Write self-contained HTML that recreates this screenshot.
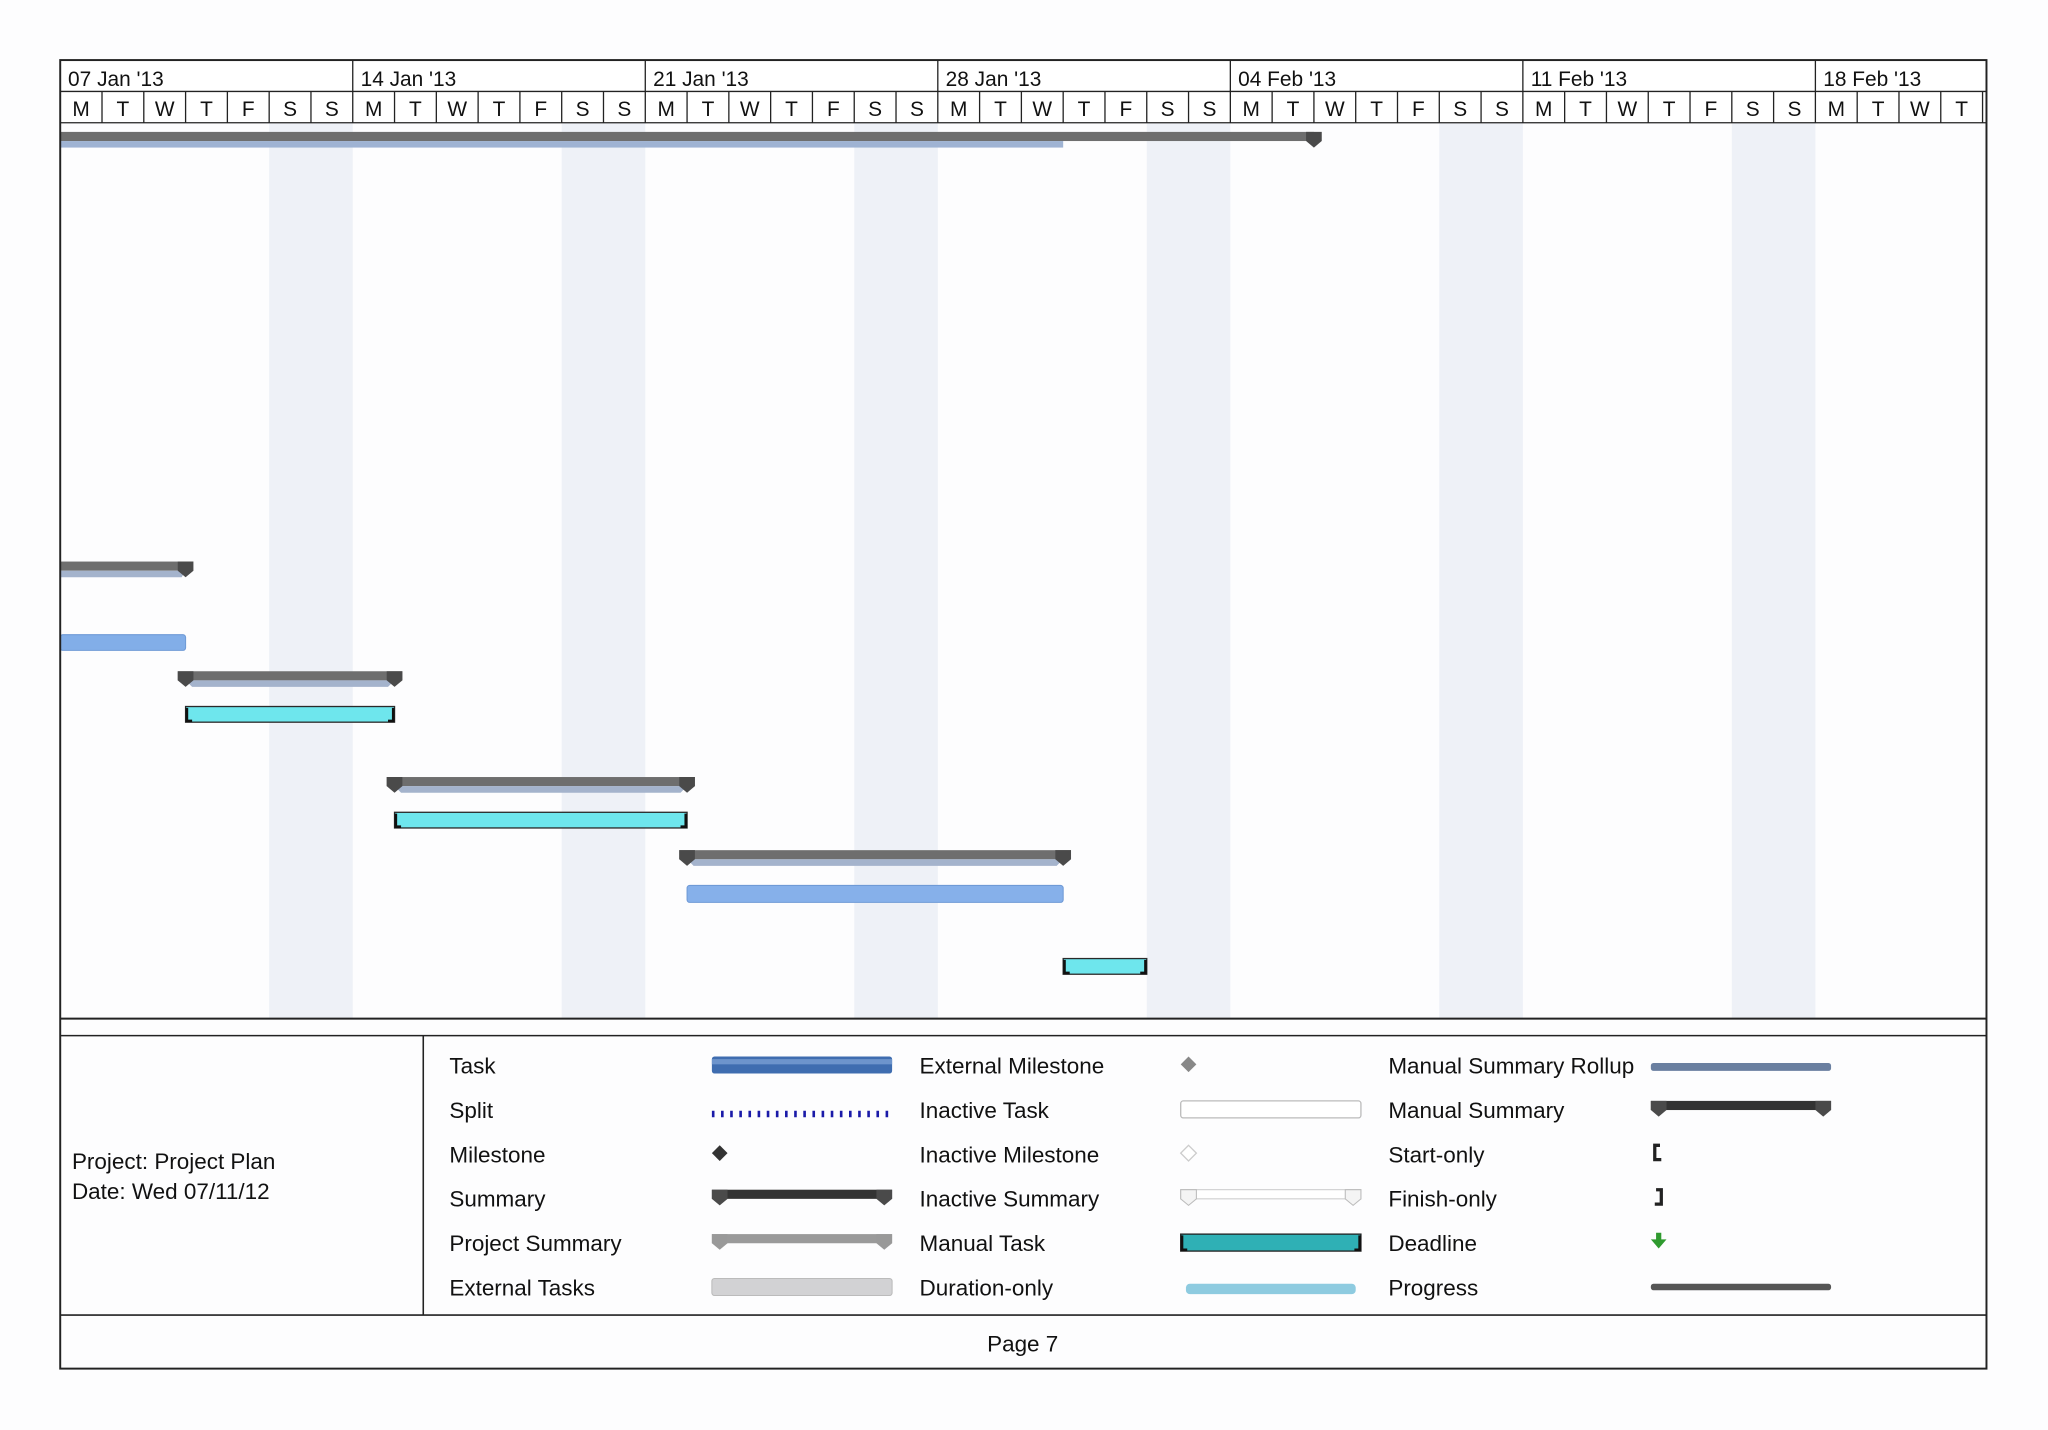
<!DOCTYPE html>
<html><head><meta charset="utf-8"><style>html,body{margin:0;padding:0;background:#fff;width:2048px;height:1430px;overflow:hidden}svg{display:block}text{font-family:"Liberation Sans",sans-serif;fill:#111}</style></head>
<body>
<svg width="2048" height="1430" viewBox="0 0 1568 1095" xmlns="http://www.w3.org/2000/svg">
<defs>
<g id="capL"><polygon points="-6,0 6,0 6,7 0,12 -6,7" fill="#4a4a4a"/></g>
</defs>
<rect x="0" y="0" width="1568" height="1095" fill="#fdfdfe"/>
<g fill="#eef1f7">
<rect x="206" y="94" width="64" height="686"/>
<rect x="430" y="94" width="64" height="686"/>
<rect x="654" y="94" width="64" height="686"/>
<rect x="878" y="94" width="64" height="686"/>
<rect x="1102" y="94" width="64" height="686"/>
<rect x="1326" y="94" width="64" height="686"/>
</g>
<rect x="46" y="46" width="1475" height="48" fill="#fff"/>
<g stroke="#222" stroke-width="1">
<line x1="46" y1="70" x2="1521" y2="70"/>
<line x1="46" y1="94" x2="1521" y2="94"/>
<line x1="270" y1="46" x2="270" y2="94"/><line x1="494" y1="46" x2="494" y2="94"/><line x1="718" y1="46" x2="718" y2="94"/><line x1="942" y1="46" x2="942" y2="94"/><line x1="1166" y1="46" x2="1166" y2="94"/><line x1="1390" y1="46" x2="1390" y2="94"/>
<line x1="78" y1="70" x2="78" y2="94"/><line x1="110" y1="70" x2="110" y2="94"/><line x1="142" y1="70" x2="142" y2="94"/><line x1="174" y1="70" x2="174" y2="94"/><line x1="206" y1="70" x2="206" y2="94"/><line x1="238" y1="70" x2="238" y2="94"/>
<line x1="302" y1="70" x2="302" y2="94"/><line x1="334" y1="70" x2="334" y2="94"/><line x1="366" y1="70" x2="366" y2="94"/><line x1="398" y1="70" x2="398" y2="94"/><line x1="430" y1="70" x2="430" y2="94"/><line x1="462" y1="70" x2="462" y2="94"/>
<line x1="526" y1="70" x2="526" y2="94"/><line x1="558" y1="70" x2="558" y2="94"/><line x1="590" y1="70" x2="590" y2="94"/><line x1="622" y1="70" x2="622" y2="94"/><line x1="654" y1="70" x2="654" y2="94"/><line x1="686" y1="70" x2="686" y2="94"/>
<line x1="750" y1="70" x2="750" y2="94"/><line x1="782" y1="70" x2="782" y2="94"/><line x1="814" y1="70" x2="814" y2="94"/><line x1="846" y1="70" x2="846" y2="94"/><line x1="878" y1="70" x2="878" y2="94"/><line x1="910" y1="70" x2="910" y2="94"/>
<line x1="974" y1="70" x2="974" y2="94"/><line x1="1006" y1="70" x2="1006" y2="94"/><line x1="1038" y1="70" x2="1038" y2="94"/><line x1="1070" y1="70" x2="1070" y2="94"/><line x1="1102" y1="70" x2="1102" y2="94"/><line x1="1134" y1="70" x2="1134" y2="94"/>
<line x1="1198" y1="70" x2="1198" y2="94"/><line x1="1230" y1="70" x2="1230" y2="94"/><line x1="1262" y1="70" x2="1262" y2="94"/><line x1="1294" y1="70" x2="1294" y2="94"/><line x1="1326" y1="70" x2="1326" y2="94"/><line x1="1358" y1="70" x2="1358" y2="94"/>
<line x1="1422" y1="70" x2="1422" y2="94"/><line x1="1454" y1="70" x2="1454" y2="94"/><line x1="1486" y1="70" x2="1486" y2="94"/><line x1="1518" y1="70" x2="1518" y2="94"/>
</g>
<g font-size="16">
<text x="52" y="66">07 Jan '13</text><text x="276" y="66">14 Jan '13</text><text x="500" y="66">21 Jan '13</text><text x="724" y="66">28 Jan '13</text><text x="948" y="66">04 Feb '13</text><text x="1172" y="66">11 Feb '13</text><text x="1396" y="66">18 Feb '13</text>
</g>
<g font-size="16" text-anchor="middle">
<text x="62" y="89">M</text><text x="94" y="89">T</text><text x="126" y="89">W</text><text x="158" y="89">T</text><text x="190" y="89">F</text><text x="222" y="89">S</text><text x="254" y="89">S</text>
<text x="286" y="89">M</text><text x="318" y="89">T</text><text x="350" y="89">W</text><text x="382" y="89">T</text><text x="414" y="89">F</text><text x="446" y="89">S</text><text x="478" y="89">S</text>
<text x="510" y="89">M</text><text x="542" y="89">T</text><text x="574" y="89">W</text><text x="606" y="89">T</text><text x="638" y="89">F</text><text x="670" y="89">S</text><text x="702" y="89">S</text>
<text x="734" y="89">M</text><text x="766" y="89">T</text><text x="798" y="89">W</text><text x="830" y="89">T</text><text x="862" y="89">F</text><text x="894" y="89">S</text><text x="926" y="89">S</text>
<text x="958" y="89">M</text><text x="990" y="89">T</text><text x="1022" y="89">W</text><text x="1054" y="89">T</text><text x="1086" y="89">F</text><text x="1118" y="89">S</text><text x="1150" y="89">S</text>
<text x="1182" y="89">M</text><text x="1214" y="89">T</text><text x="1246" y="89">W</text><text x="1278" y="89">T</text><text x="1310" y="89">F</text><text x="1342" y="89">S</text><text x="1374" y="89">S</text>
<text x="1406" y="89">M</text><text x="1438" y="89">T</text><text x="1470" y="89">W</text><text x="1502" y="89">T</text>
</g>

<rect x="46" y="101" width="960" height="7" fill="#6e6e6e"/>
<rect x="46" y="108" width="768" height="5" fill="#9fb3d3"/>
<use href="#capL" x="1006" y="101"/>
<rect x="46" y="430" width="96" height="7" fill="#6e6e6e"/>
<polygon points="46,437 142,437 139,442 46,442" fill="#a4b3cc"/>
<use href="#capL" x="142" y="430"/>
<rect x="46" y="486" width="96" height="12" rx="2" fill="#82aee8" stroke="#6f9ad6" stroke-width="0.8"/>
<rect x="136" y="514" width="172" height="7" fill="#6e6e6e"/>
<polygon points="142,521 302,521 297,526 147,526" fill="#a4b3cc"/>
<use href="#capL" x="142" y="514"/><use href="#capL" x="302" y="514"/>
<rect x="142" y="541" width="160" height="12" fill="#6ee6ed" stroke="#2a2a2a" stroke-width="1"/>
<path d="M143,542v10h4M301,542v10h-4" stroke="#111" stroke-width="2" fill="none"/>
<rect x="296" y="595" width="236" height="7" fill="#6e6e6e"/>
<polygon points="302,602 526,602 521,607 307,607" fill="#a4b3cc"/>
<use href="#capL" x="302" y="595"/><use href="#capL" x="526" y="595"/>
<rect x="302" y="622" width="224" height="12" fill="#6ee6ed" stroke="#2a2a2a" stroke-width="1"/>
<path d="M303,623v10h4M525,623v10h-4" stroke="#111" stroke-width="2" fill="none"/>
<rect x="520" y="651" width="300" height="7" fill="#6e6e6e"/>
<polygon points="526,658 814,658 809,663 531,663" fill="#a4b3cc"/>
<use href="#capL" x="526" y="651"/><use href="#capL" x="814" y="651"/>
<rect x="526" y="678" width="288" height="13" rx="2" fill="#86b0ea" stroke="#6f9ad6" stroke-width="0.8"/>
<rect x="814" y="734" width="64" height="12" fill="#6ee6ed" stroke="#2a2a2a" stroke-width="1"/>
<path d="M815,735v10h4M877,735v10h-4" stroke="#111" stroke-width="2" fill="none"/>

<g stroke="#222" fill="none">
<rect x="46" y="46" width="1475" height="1002" stroke-width="1.5"/>
<line x1="46" y1="780" x2="1521" y2="780" stroke-width="1.5"/>
<line x1="46" y1="793" x2="1521" y2="793" stroke-width="1.2"/>
<line x1="324" y1="793" x2="324" y2="1007" stroke-width="1.2"/>
<line x1="46" y1="1007" x2="1521" y2="1007" stroke-width="1.2"/>
</g>
<g font-size="17.2">
<text x="55" y="895">Project: Project Plan</text>
<text x="55" y="918">Date: Wed 07/11/12</text>
<text x="344" y="822">Task</text><text x="344" y="856">Split</text><text x="344" y="890">Milestone</text><text x="344" y="924">Summary</text><text x="344" y="958">Project Summary</text><text x="344" y="992">External Tasks</text>
<text x="704" y="822">External Milestone</text><text x="704" y="856">Inactive Task</text><text x="704" y="890">Inactive Milestone</text><text x="704" y="924">Inactive Summary</text><text x="704" y="958">Manual Task</text><text x="704" y="992">Duration-only</text>
<text x="1063" y="822">Manual Summary Rollup</text><text x="1063" y="856">Manual Summary</text><text x="1063" y="890">Start-only</text><text x="1063" y="924">Finish-only</text><text x="1063" y="958">Deadline</text><text x="1063" y="992">Progress</text>
<text x="783" y="1035" text-anchor="middle">Page 7</text>
</g>
<rect x="545" y="809" width="138" height="13" rx="2" fill="#3f6db0"/>
<rect x="545" y="811" width="138" height="4" fill="#6d94cc"/>
<line x1="545" y1="853" x2="683" y2="853" stroke="#1a1aa8" stroke-width="5" stroke-dasharray="2,5"/>
<polygon points="551,877 557,883 551,889 545,883" fill="#333"/>
<rect x="545" y="911" width="138" height="7" fill="#333"/>
<use href="#capL" x="551" y="911"/><use href="#capL" x="677" y="911"/>
<rect x="545" y="945" width="138" height="7" fill="#9a9a9a"/>
<polygon points="545,945 557,945 557,952 551,957 545,952" fill="#999"/><polygon points="671,945 683,945 683,952 677,957 671,952" fill="#999"/>
<rect x="545" y="979" width="138" height="13" rx="2" fill="#d2d2d4" stroke="#bbb" stroke-width="0.8"/>
<polygon points="910,809 916,815 910,821 904,815" fill="#888"/>
<rect x="904" y="843" width="138" height="13" rx="2" fill="#fff" stroke="#bbb"/>
<polygon points="910,877 916,883 910,889 904,883" fill="#fff" stroke="#ccc"/>
<rect x="904" y="911" width="138" height="7" fill="#fff" stroke="#ccc" stroke-width="0.8"/>
<polygon points="904,911 916,911 916,918 910,923 904,918" fill="#f4f4f4" stroke="#bbb" stroke-width="0.8"/><polygon points="1030,911 1042,911 1042,918 1036,923 1030,918" fill="#f4f4f4" stroke="#bbb" stroke-width="0.8"/>
<rect x="904" y="945" width="138" height="13" fill="#2fb0b5" stroke="#222"/>
<path d="M905,946v11h4M1041,946v11h-4" stroke="#111" stroke-width="2" fill="none"/>
<rect x="908" y="983" width="130" height="8" rx="3" fill="#8ecbe0"/>
<rect x="1264" y="814" width="138" height="6" rx="2" fill="#6a7fa0"/>
<rect x="1264" y="843" width="138" height="7" fill="#333"/>
<use href="#capL" x="1270" y="843"/><use href="#capL" x="1396" y="843"/>
<path d="M1271,877h-4v11h5" stroke="#222" stroke-width="2.5" fill="none"/>
<path d="M1268,911h4v11h-5" stroke="#222" stroke-width="2.5" fill="none"/>
<path d="M1268,944h4v5h4l-6,7l-6,-7h4z" fill="#2f9a2f"/>
<rect x="1264" y="983" width="138" height="5" rx="2" fill="#555"/>
</svg>
</body></html>
